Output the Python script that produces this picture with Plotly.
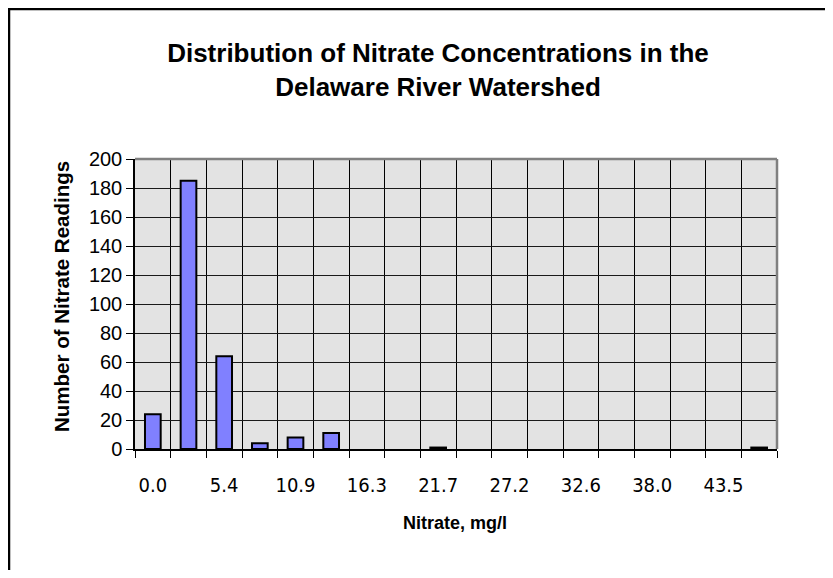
import plotly.graph_objects as go

# Bins (mg/l) y conteos
bins = ["0.0", "2.7", "5.4", "8.2", "10.9", "13.6", "16.3", "19.0", "21.7",
        "24.5", "27.2", "29.9", "32.6", "35.3", "38.0", "40.8", "43.5", "46.2"]
counts = [24, 185, 64, 4, 8, 11, 0, 0, 1, 0, 0, 0, 0, 0, 0, 0, 0, 1]
# solo se rotula una de cada dos clases
tick_labels = [b if i % 2 == 0 else "" for i, b in enumerate(bins)]

# la página tiene 8px de margen, así que la figura es 16px más pequeña
W, H = 817, 562
L, R, T, B = 127, 48, 151, 121
pw, ph = W - L - R, H - T - B

fig = go.Figure()
fig.add_trace(go.Bar(
    x=bins,
    y=[c if c > 0 else None for c in counts],  # Excel no dibuja las barras vacías
    marker=dict(color="#8080ff", line=dict(color="black", width=2)),
    showlegend=False
))

fig.update_layout(
    width=W, height=H,
    margin=dict(l=L, r=R, t=T, b=B, pad=0),
    paper_bgcolor="white",
    plot_bgcolor="#e3e3e3",
    bargap=0.56,
    font=dict(family="Liberation Sans, Arial, sans-serif", color="black"),
    title=dict(
        text="<b>Distribution of Nitrate Concentrations in the<br>Delaware River Watershed</b>",
        xref="container", x=430 / W, xanchor="center",
        yref="container", y=1 - 54 / H, yanchor="middle",
        font=dict(size=26, color="black")
    ),
    xaxis=dict(
        type="category",
        tickson="boundaries",
        tickmode="array",
        tickvals=bins,
        ticktext=tick_labels,
        tickangle=0,
        tickfont=dict(family="DejaVu Sans Condensed, Liberation Sans Narrow, sans-serif", size=20),
        ticklabelstandoff=17,
        ticks="outside", ticklen=7, tickcolor="black", tickwidth=1,
        showgrid=True, gridcolor="black", gridwidth=1,
        showline=True, linecolor="black", linewidth=2,
        zeroline=False,
        fixedrange=True
    ),
    yaxis=dict(
        range=[0, 200],
        dtick=20,
        tickfont=dict(size=20),
        ticks="outside", ticklen=7, tickcolor="black", tickwidth=1,
        showgrid=True, gridcolor="#1a1a1a", gridwidth=1.2,
        showline=True, linecolor="black", linewidth=1.5,
        zeroline=False,
        fixedrange=True
    )
)

# títulos de ejes como anotaciones para colocarlos igual que en el original
fig.add_annotation(text="<b>Number of Nitrate Readings</b>", textangle=-90,
                   xref="paper", yref="paper", x=(61 - 135) / pw, y=(449 - 297) / ph,
                   xanchor="center", yanchor="middle", showarrow=False,
                   font=dict(size=20.5))
fig.add_annotation(text="<b>Nitrate, mg/l</b>",
                   xref="paper", yref="paper", x=(455 - 135) / pw, y=(449 - 523) / ph,
                   xanchor="center", yanchor="middle", showarrow=False,
                   font=dict(size=18))

# borde gris arriba y a la derecha del área de trazado
fig.add_shape(type="line", xref="paper", yref="paper", x0=0, x1=1, y0=1, y1=1,
              line=dict(color="#808080", width=2.5))
fig.add_shape(type="line", xref="paper", yref="paper", x0=1, x1=1, y0=0, y1=1,
              line=dict(color="#808080", width=2.5))

# marco exterior del gráfico (recortado a derecha y abajo)
fx0 = (1 - L) / pw
fy1 = (H - B - 1) / ph
fig.add_shape(type="rect", xref="paper", yref="paper",
              x0=fx0, x1=2.0, y0=-2.0, y1=fy1,
              line=dict(color="black", width=2.5), fillcolor="rgba(0,0,0,0)")

fig.write_html("out.html")
